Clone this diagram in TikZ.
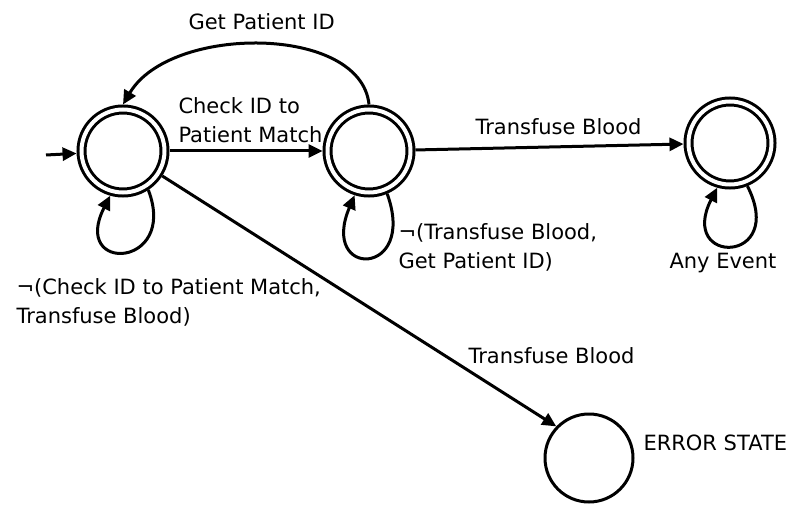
\documentclass[tikz,border=0pt]{standalone}
\usepackage{fontspec}
\setmainfont{DejaVu Sans}
\usetikzlibrary{arrows.meta}

\begin{document}
\begin{tikzpicture}[x=1pt, y=1pt, >={Triangle[length=14pt,width=13pt]}, line width=3pt,
    accept/.style={circle, draw, double, double distance=4pt, minimum size=83pt, inner sep=0pt, outer sep=5pt},
    errnode/.style={circle, draw, minimum size=88pt, inner sep=0pt},
    lbl/.style={font=\fontsize{21}{29}\selectfont, inner sep=0pt, align=left}]
    \useasboundingbox (0,0) rectangle (792,504);

    % states
    \node[accept] (s0) at (123,353) {};
    \node[accept] (s1) at (369,353) {};
    \node[accept] (s2) at (730,361) {};
    \node[errnode] (err) at (589,46) {};
    \coordinate (start) at (46,349);

    % transitions
    \draw[->] (start) -- (s0);
    \draw[->] (s0) -- (s1);
    \draw[->] (s1) -- (s2);
    \draw[->] (s0) -- (err.136);
    \draw[->] (s1.north) .. controls +(-8,80) and +(47,80) .. (s0.north);

    % self loops
    \draw[->] (s0.-57) .. controls +(-69:84) and +(-117:88) .. (s0.-106);
    \draw[->] (s1.-67) .. controls +(-70:89) and +(-113:91) .. (s1.-108);
    \draw[->] (s2.-68) .. controls +(-63:88) and +(-117:88) .. (s2.-106);

    % labels
    \node[lbl, anchor=base west] (getid) at (187,474) {Get Patient ID};
    \node[lbl, anchor=north west] (checkid) at (177,408) {Check ID to\\Patient Match};
    \node[lbl, anchor=base west] (transfuse) at (474,369) {Transfuse Blood};
    \node[lbl, anchor=north west] (loopone) at (397,282) {¬(Transfuse Blood,\\Get Patient ID)};
    \node[lbl, anchor=base west] (anyevent) at (668,236) {Any Event};
    \node[lbl, anchor=north west] (loopzero) at (15,227) {¬(Check ID to Patient Match,\\Transfuse Blood)};
    \node[lbl, anchor=base west] (transerr) at (467,141) {Transfuse Blood};
    \node[lbl, anchor=base west] (errlbl) at (642,54) {ERROR STATE};
\end{tikzpicture}
\end{document}
